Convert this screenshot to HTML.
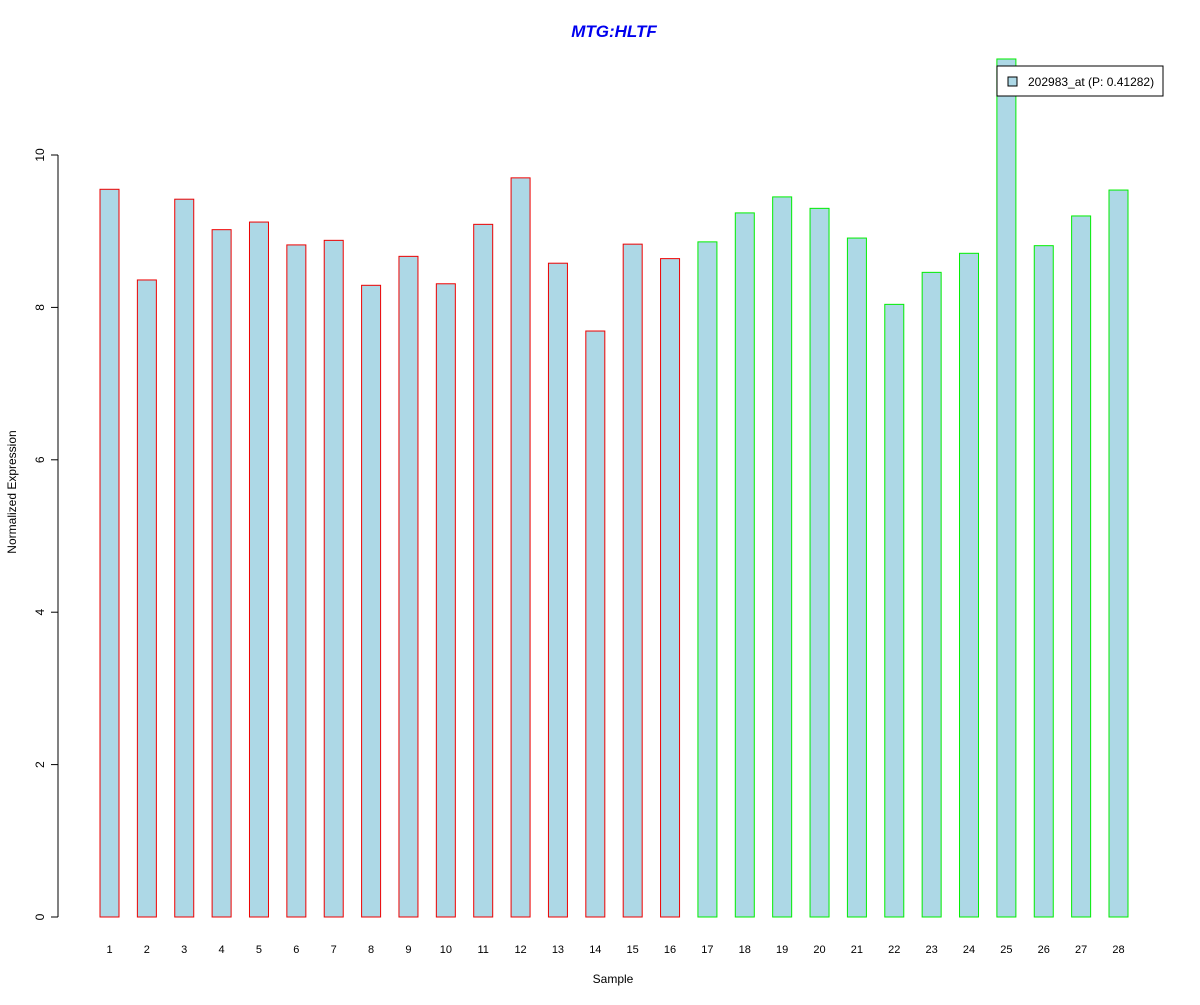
<!DOCTYPE html>
<html><head><meta charset="utf-8"><style>
body{margin:0;background:#fff;}
svg text{font-family:"Liberation Sans",Arial,sans-serif;}
</style></head><body>
<svg id="chart" width="1200" height="1000" viewBox="0 0 1200 1000">
<rect width="1200" height="1000" fill="#fff"/>
<text x="614" y="37" text-anchor="middle" font-size="17" font-weight="bold" font-style="italic" fill="#0000ee">MTG:HLTF</text>
<text x="613" y="983" text-anchor="middle" font-size="12">Sample</text>
<text transform="translate(16,492) rotate(-90)" text-anchor="middle" font-size="12">Normalized Expression</text>
<g id="yaxis"></g>
<g id="bars"></g>
<g id="xlabels"></g>
<g>
<rect x="997" y="66" width="166" height="30" fill="#fff" stroke="#000"/>
<rect x="1008" y="77" width="9" height="9" fill="#add8e6" stroke="#000"/>
<text x="1028" y="86" font-size="12">202983_at (P: 0.41282)</text>
</g>
</svg>
<script>
const categories = ["1","2","3","4","5","6","7","8","9","10","11","12","13","14","15","16","17","18","19","20","21","22","23","24","25","26","27","28"];
const values = [9.55,8.36,9.42,9.02,9.12,8.82,8.88,8.29,8.67,8.31,9.09,9.70,8.58,7.69,8.83,8.64,8.86,9.24,9.45,9.30,8.91,8.04,8.46,8.71,11.26,8.81,9.20,9.54];
const groups = ["r","r","r","r","r","r","r","r","r","r","r","r","r","r","r","r","g","g","g","g","g","g","g","g","g","g","g","g"];
const yTicks = [0,2,4,6,8,10];
const NS="http://www.w3.org/2000/svg";
const y0=917, pxPerUnit=76.2;
function yScale(v){return y0-v*pxPerUnit;}
const x0=109.5, step=(1118.5-109.5)/27, bw=19;
function xScale(i){return x0+i*step;}
function mk(tag,attrs,parent){const e=document.createElementNS(NS,tag);for(const k in attrs)e.setAttribute(k,attrs[k]);parent.appendChild(e);return e;}
const ya=document.getElementById('yaxis');
const axl=mk('line',{x1:58,x2:58,y1:yScale(yTicks[0]),y2:yScale(yTicks[yTicks.length-1]),stroke:'#000'},ya);


yTicks.forEach(t=>{
  const y=yScale(t);
  const tk=mk('line',{x1:51,x2:58,y1:y,y2:y,stroke:'#000'},ya);
  
  
  const tx=mk('text',{transform:`translate(44,${y}) rotate(-90)`,'text-anchor':'middle','font-size':12},ya);
  tx.textContent=t;
  
  
});
const bg=document.getElementById('bars'), xl=document.getElementById('xlabels');
values.forEach((v,i)=>{
  const cx=xScale(i);
  const r=mk('rect',{x:cx-bw/2,y:yScale(v),width:bw,height:y0-yScale(v),fill:'#add8e6',stroke:groups[i]==='r'?'#ee0000':'#00ee00'},bg);
  
  
  const t=mk('text',{x:cx,y:953,'text-anchor':'middle','font-size':11},xl);
  t.textContent=categories[i];
  
  
});
</script>
</body></html>
